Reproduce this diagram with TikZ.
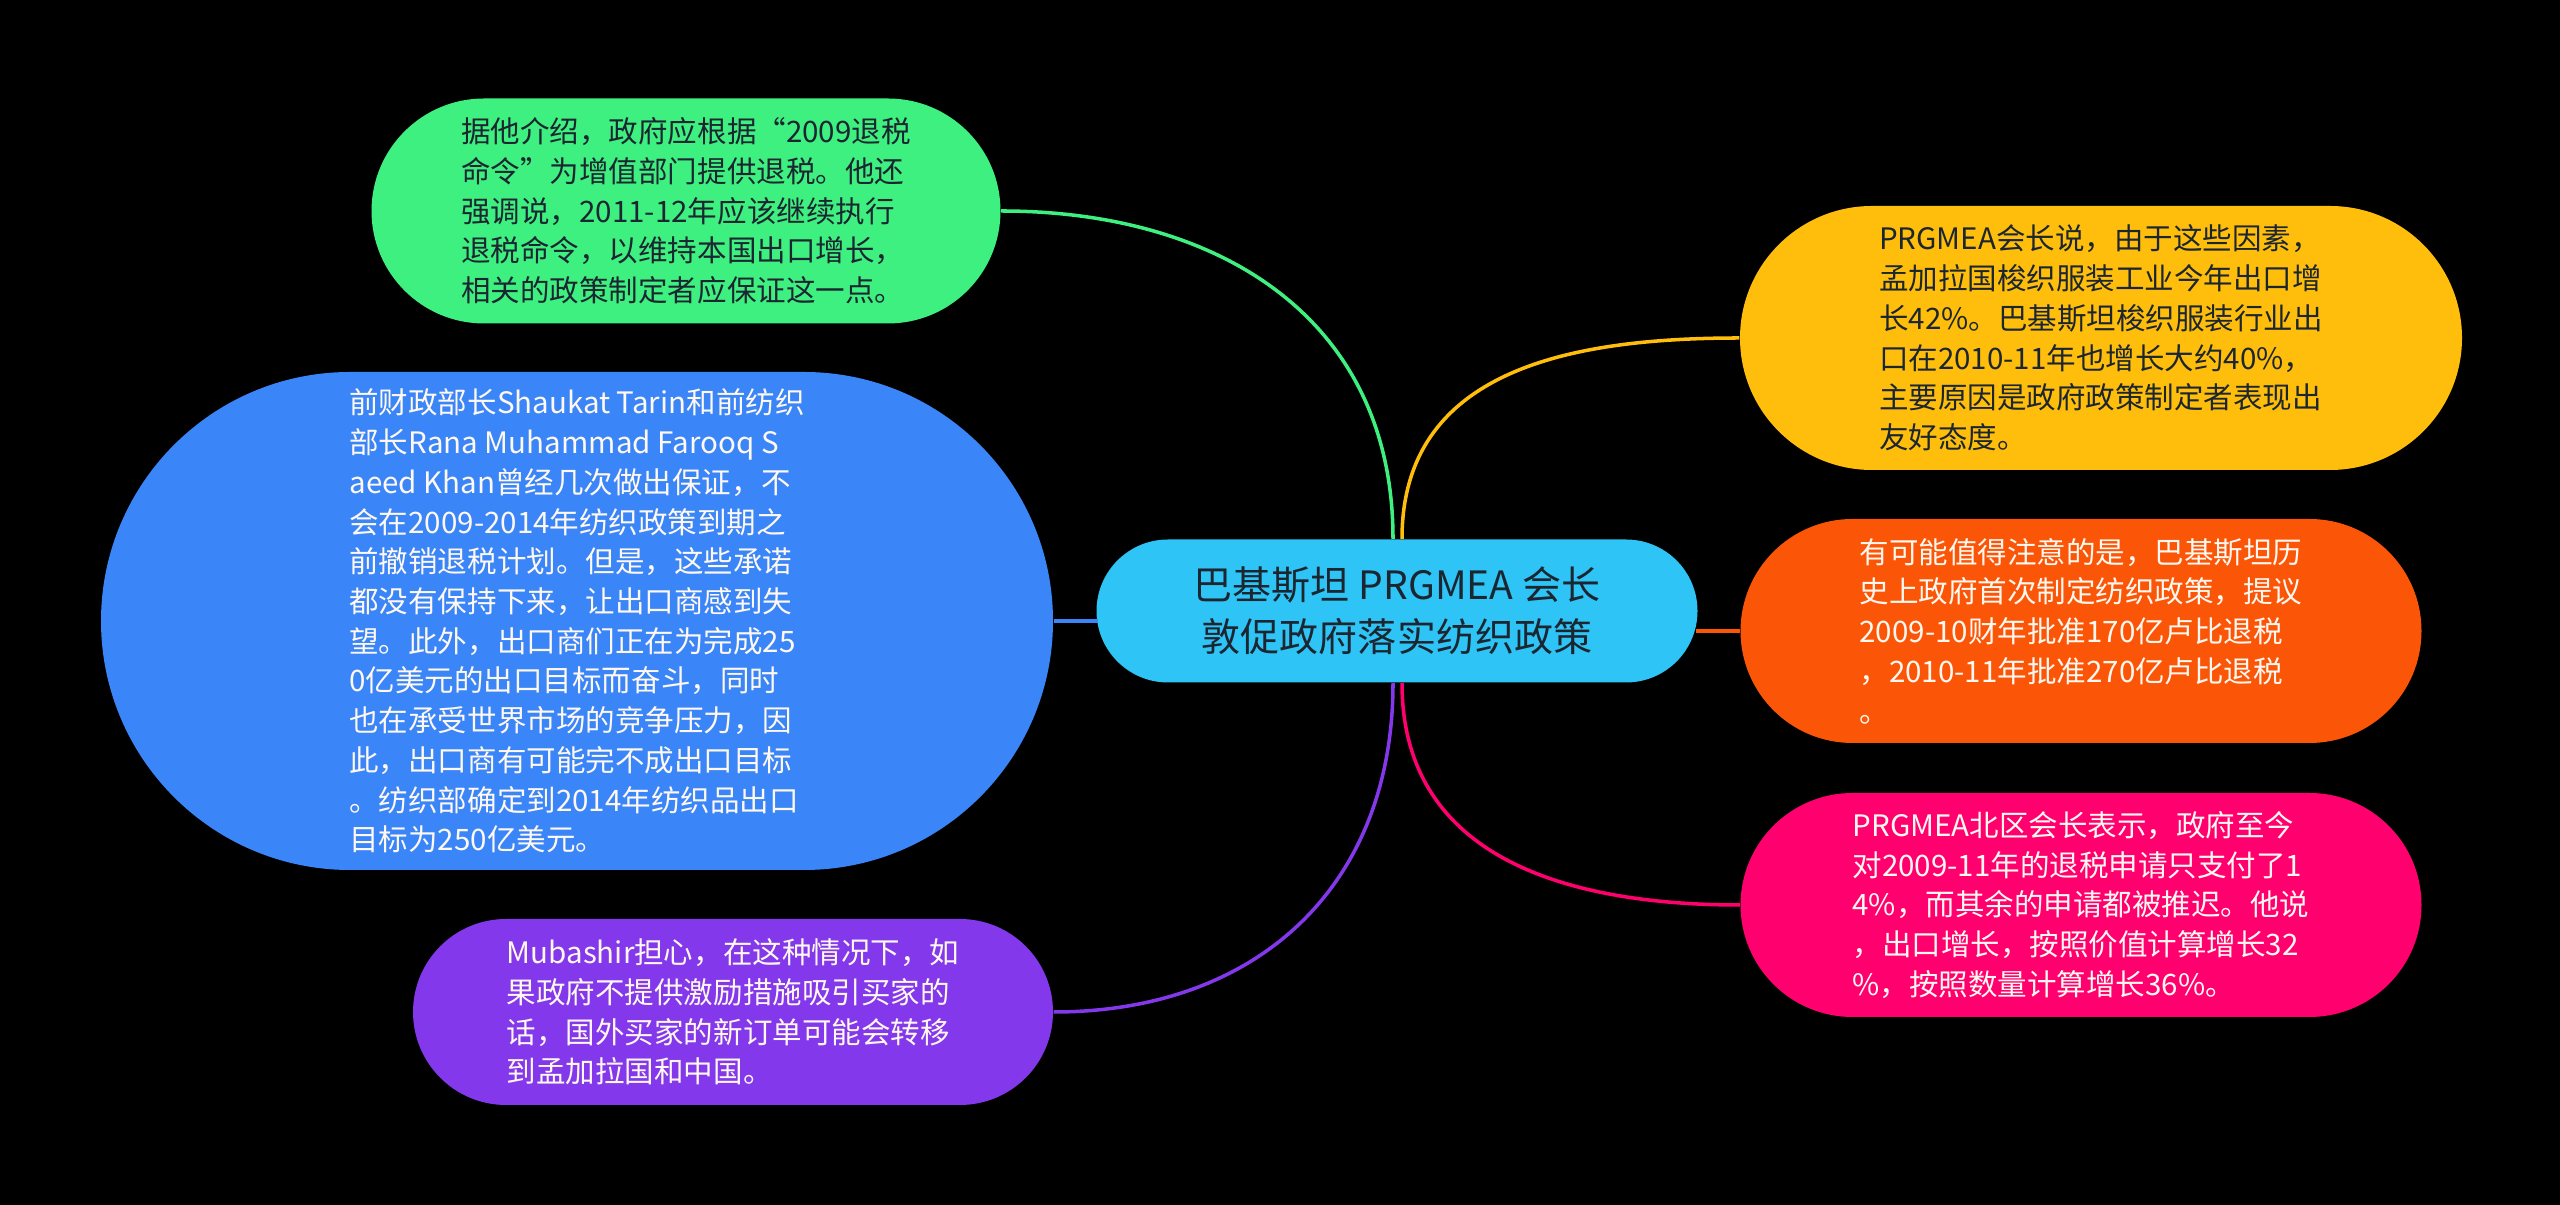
\documentclass[tikz,border=0pt]{standalone}
\usepackage{fontspec}
\setmainfont{Noto Sans CJK SC}
\usetikzlibrary{shapes.misc, positioning}
\definecolor{bgc}{HTML}{000000}
\definecolor{hubc}{HTML}{2EC4F6}
\definecolor{greenc}{HTML}{3EF080}
\definecolor{bluec}{HTML}{3A86F8}
\definecolor{purplec}{HTML}{8338EC}
\definecolor{yellowc}{HTML}{FFBE0B}
\definecolor{orangec}{HTML}{FB5607}
\definecolor{pinkc}{HTML}{FF006E}
\definecolor{darktext}{HTML}{1C2630}
\definecolor{lighttext}{HTML}{FFF8F0}
\newcommand\leaffont{\fontsize{8.4pt}{11.3pt}\selectfont}
\newcommand\hubfont{\fontsize{11.1pt}{14.8pt}\selectfont}
\tikzstyle{topic} = [rounded rectangle, align=center, inner sep=0pt, font=\hubfont, text=darktext, fill=hubc]
\tikzstyle{leaf} = [rounded rectangle, align=left, inner sep=0pt, font=\leaffont]
\tikzstyle{branch} = [line width=1pt]

\begin{document}
\begin{tikzpicture}
    \fill [bgc] (0,0) rectangle (25.6,-12.05);
    \useasboundingbox (0,0) rectangle (25.6,-12.05);

    \node (hub) [topic, minimum width=6.01cm, minimum height=1.43cm] at (13.97,-6.11) {巴基斯坦 PRGMEA 会长\\敦促政府落实纺织政策};

    % left side
    \node (refund) [leaf, fill=greenc, text=darktext, minimum width=6.29cm, minimum height=2.25cm] at (6.86,-2.11) {据他介绍，政府应根据“2009退税\\命令”为增值部门提供退税。他还\\强调说，2011-12年应该继续执行\\退税命令，以维持本国出口增长，\\相关的政策制定者应保证这一点。};
    \node (promise) [leaf, fill=bluec, text=lighttext, minimum width=9.52cm, minimum height=4.98cm] at (5.77,-6.21) {前财政部长Shaukat Tarin和前纺织\\部长Rana Muhammad Farooq S\\aeed Khan曾经几次做出保证，不\\会在2009-2014年纺织政策到期之\\前撤销退税计划。但是，这些承诺\\都没有保持下来，让出口商感到失\\望。此外，出口商们正在为完成25\\0亿美元的出口目标而奋斗，同时\\也在承受世界市场的竞争压力，因\\此，出口商有可能完不成出口目标\\。纺织部确定到2014年纺织品出口\\目标为250亿美元。};
    \node (buyers) [leaf, fill=purplec, text=lighttext, minimum width=6.40cm, minimum height=1.86cm] at (7.33,-10.12) {Mubashir担心，在这种情况下，如\\果政府不提供激励措施吸引买家的\\话，国外买家的新订单可能会转移\\到孟加拉国和中国。};

    % right side
    \node (growth) [leaf, fill=yellowc, text=darktext, minimum width=7.22cm, minimum height=2.64cm] at (21.01,-3.38) {PRGMEA会长说，由于这些因素，\\孟加拉国梭织服装工业今年出口增\\长42\%。巴基斯坦梭织服装行业出\\口在2010-11年也增长大约40\%，\\主要原因是政府政策制定者表现出\\友好态度。};
    \node (policy) [leaf, fill=orangec, text=lighttext, minimum width=6.81cm, minimum height=2.24cm] at (20.81,-6.31) {有可能值得注意的是，巴基斯坦历\\史上政府首次制定纺织政策，提议\\2009-10财年批准170亿卢比退税\\，2010-11年批准270亿卢比退税\\。};
    \node (payment) [leaf, fill=pinkc, text=lighttext, minimum width=6.81cm, minimum height=2.24cm] at (20.81,-9.05) {PRGMEA北区会长表示，政府至今\\对2009-11年的退税申请只支付了1\\4\%，而其余的申请都被推迟。他说\\，出口增长，按照价值计算增长32\\\%，按照数量计算增长36\%。};

    \draw [branch, greenc] ([xshift=-0.04cm]hub.north) to[out=90, in=0, looseness=1.1] (refund.east);
    \draw [branch, bluec] ([xshift=0.02cm]promise.east -| hub.west) -- (promise.east);
    \draw [branch, purplec] ([xshift=-0.04cm]hub.south) to[out=-90, in=0, looseness=1.1] (buyers.east);
    \draw [branch, yellowc] ([xshift=0.05cm]hub.north) to[out=90, in=180, looseness=1.1] (growth.west);
    \draw [branch, orangec] ([xshift=-0.02cm]policy.west -| hub.east) -- (policy.west);
    \draw [branch, pinkc] ([xshift=0.05cm]hub.south) to[out=-90, in=180, looseness=1.1] (payment.west);
\end{tikzpicture}
\end{document}
